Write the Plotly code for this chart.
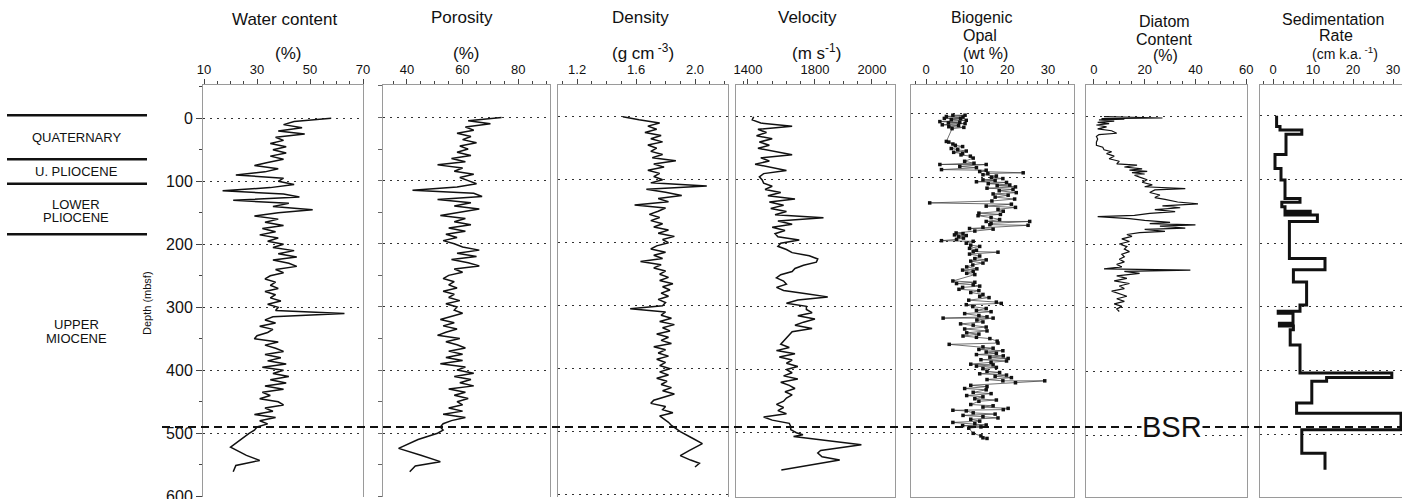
import plotly.graph_objects as go

# ---------------- data ----------------
core_depth = [0, 5, 10, 15, 20, 25, 30, 35, 40, 45, 50, 55, 60, 65, 70, 75, 80, 85, 90, 95,
              100, 105, 110, 115, 120, 125, 130, 135, 140, 145, 150, 155, 160, 165, 170, 175, 180, 185, 190, 195,
              200, 205, 210, 215, 220, 225, 230, 235, 240, 245, 250, 255, 260, 265, 270, 275, 280, 285, 290, 295,
              300, 305, 310, 315, 320, 325, 330, 335, 340, 345, 350, 355, 360, 365, 370, 375, 380, 385, 390, 395,
              400, 405, 410, 415, 420, 425, 430, 435, 440, 445, 450, 455, 460, 465, 470, 475, 480, 485, 490]

water_pct_core = [58, 44, 40, 47, 38, 48, 37, 40, 35, 41, 36, 41, 35, 40, 34, 29, 38, 33, 22, 40,
                  38, 44, 35, 17, 40, 46, 21, 42, 36, 51, 38, 29, 38, 33, 40, 32, 37, 31, 38, 34,
                  40, 36, 44, 38, 45, 36, 42, 45, 37, 40, 35, 33, 37, 35, 38, 33, 37, 35, 39, 34,
                  38, 37, 63, 36, 33, 37, 31, 36, 34, 30, 29, 38, 33, 37, 40, 33, 39, 34, 41, 32,
                  40, 36, 42, 35, 41, 33, 40, 32, 35, 31, 38, 40, 33, 36, 29, 37, 31, 34, 30]
water_depth = core_depth + [495, 500, 510, 522, 535, 543, 551, 561]
water_pct = water_pct_core + [29, 27, 24, 20, 26, 31, 22, 21]

poro_pct_core = [74, 62, 70, 61, 64, 58, 63, 60, 65, 59, 62, 58, 63, 56, 61, 51, 60, 57, 64, 59,
                 62, 65, 58, 42, 64, 67, 51, 63, 57, 66, 59, 52, 61, 57, 63, 55, 61, 54, 58, 53,
                 57, 60, 66, 58, 65, 56, 62, 66, 57, 60, 55, 53, 57, 55, 58, 53, 57, 55, 59, 54,
                 58, 57, 60, 56, 52, 57, 53, 58, 54, 51, 59, 54, 58, 61, 55, 60, 54, 60, 52, 61,
                 58, 64, 57, 63, 59, 64, 55, 61, 57, 62, 58, 60, 55, 60, 53, 61, 56, 53, 52]
poro_depth = core_depth + [495, 500, 510, 524, 535, 545, 552, 561]
poro_pct = poro_pct_core + [53, 51, 44, 37, 45, 52, 43, 41]

dens_core = [1.51, 1.62, 1.76, 1.68, 1.74, 1.66, 1.77, 1.70, 1.78, 1.68, 1.74, 1.70, 1.78, 1.71, 1.87, 1.72, 1.79, 1.68, 1.76, 1.72,
             1.78, 1.70, 2.08, 1.67, 1.80, 1.91, 1.75, 1.82, 1.59, 1.80, 1.75, 1.69, 1.76, 1.70, 1.78, 1.72, 1.82, 1.75, 1.86, 1.78,
             1.82, 1.74, 1.70, 1.80, 1.72, 1.78, 1.63, 1.77, 1.72, 1.80, 1.76, 1.82, 1.76, 1.85, 1.78, 1.83, 1.77, 1.82, 1.75, 1.80,
             1.78, 1.56, 1.80, 1.77, 1.84, 1.76, 1.86, 1.78, 1.83, 1.74, 1.82, 1.77, 1.84, 1.72, 1.80, 1.75, 1.82, 1.74, 1.80, 1.76,
             1.83, 1.76, 1.82, 1.74, 1.81, 1.77, 1.84, 1.78, 1.86, 1.79, 1.72, 1.70, 1.80, 1.78, 1.85, 1.76, 1.79, 1.82, 1.84]
dens_depth = core_depth + [495, 500, 510, 519, 530, 538, 545, 550, 556]
dens_gcc = dens_core + [1.87, 1.90, 1.98, 2.05, 1.96, 1.90, 1.97, 2.03, 2.00]

vel_core = [1585, 1580, 1610, 1720, 1600, 1630, 1595, 1650, 1605, 1640, 1600, 1660, 1720, 1610, 1640, 1590, 1650, 1700, 1620, 1605,
            1615, 1620, 1650, 1625, 1680, 1635, 1730, 1640, 1690, 1645, 1700, 1660, 1830, 1670, 1720, 1650, 1695, 1660, 1670, 1745,
            1680, 1670, 1700, 1720, 1780, 1810, 1805, 1760, 1730, 1720, 1680, 1665, 1690, 1700, 1665, 1690, 1770, 1845, 1740, 1700,
            1770, 1770, 1790, 1740, 1800, 1760, 1730, 1790, 1720, 1710, 1700, 1690, 1680, 1710, 1665, 1730, 1675, 1720, 1700, 1740,
            1700, 1720, 1690, 1740, 1680, 1710, 1730, 1695, 1720, 1700, 1690, 1665, 1690, 1670, 1700, 1620, 1650, 1710, 1715]
vel_depth = core_depth + [495, 500, 503, 506, 519, 528, 532, 538, 543, 559]
vel_ms = vel_core + [1715, 1735, 1758, 1725, 1963, 1820, 1810, 1825, 1887, 1682]

opal_depth = [3, 3, 5, 6, 8, 8, 10, 11, 13, 14, 15, 16, 18, 19, 21, 22, 24,
              44, 45, 48, 50, 52, 55, 57, 59, 61, 63, 65, 67, 70,
              75, 78, 80, 80, 83, 85, 88, 89, 91, 93, 94, 96, 98, 100, 102, 104, 105, 107, 108, 110,
              112, 113, 115, 117, 119, 121, 124, 126, 128, 131, 134, 137, 140, 142, 145, 147, 150, 153, 156, 158,
              160, 163, 166, 169, 169, 172, 174, 175, 178, 180, 181, 184,
              187, 188, 190, 191, 193, 195, 197, 199, 200, 203, 206, 208, 211, 214, 216, 217, 220, 223,
              227, 229, 231, 234, 237, 240, 243, 245, 247, 250, 252,
              262, 264, 266, 268, 270, 272, 275, 277, 280, 283, 286, 288, 292, 295, 297, 299, 302, 305, 308, 310,
              313, 316, 318, 320, 320, 323, 326, 329, 331, 334, 337, 340, 343, 345, 348, 350, 352, 356, 359, 361,
              365, 367, 369, 371, 373, 375, 377, 379, 381, 383, 385, 387, 389, 392, 393, 395, 397, 399,
              403, 405, 407, 409, 411, 413, 416, 418, 418, 421, 425, 427, 430, 432, 436, 438, 441, 443, 446, 448, 450,
              455, 457, 459, 461, 463, 464, 465, 468, 470, 472, 474, 476, 478, 481, 483, 485, 487, 488, 490, 492,
              500, 504, 507, 508]
opal_wt = [6.6, 9.6, 5.0, 9.1, 4.5, 8.5, 6.2, 9.9, 3.4, 8.3, 5.5, 9.6, 4.0, 8.0, 5.6, 9.3, 6.4,
           5.0, 5.6, 6.6, 7.2, 9.0, 6.2, 7.8, 9.9, 6.8, 9.0, 8.6, 10.9, 11.6,
           9.5, 11.8, 3.4, 14.8, 8.3, 12.4, 3.8, 14.8, 13.2, 23.9, 15.2, 14.0, 17.3, 16.1, 18.9, 14.0, 17.0, 12.4, 19.8, 15.3,
           20.6, 17.5, 22.0, 15.0, 21.4, 18.0, 22.2, 16.5, 20.2, 17.0, 21.8, 16.2, 0.9, 21.0, 14.8, 22.0, 17.7, 19.0, 13.0, 18.3,
           12.8, 16.0, 18.1, 14.8, 25.5, 16.0, 15.7, 25.1, 14.0, 10.7, 16.5, 12.0,
           7.4, 9.1, 7.0, 9.9, 8.0, 9.2, 7.5, 3.8, 11.6, 9.9, 11.0, 13.2, 10.7, 12.4, 11.6, 17.7, 10.7, 13.2,
           12.0, 14.8, 11.0, 14.0, 11.5, 10.0, 12.5, 9.0, 11.6, 10.0, 12.0,
           6.6, 12.0, 7.5, 11.6, 13.2, 9.0, 8.1, 13.0, 11.0, 14.0, 13.2, 15.5, 10.5, 17.3, 18.5, 9.9, 11.5, 14.8, 12.4, 16.0,
           9.5, 13.0, 15.0, 4.2, 16.5, 12.5, 14.0, 8.5, 11.6, 14.8, 9.5, 15.0, 10.0, 13.0, 9.1, 12.4, 15.7, 17.5, 17.7, 5.7,
           14.0, 16.5, 13.0, 18.9, 14.8, 17.3, 12.4, 19.0, 15.7, 20.2, 13.5, 19.8, 16.0, 11.0, 16.5, 12.4, 17.3, 14.0,
           15.0, 18.1, 13.2, 19.8, 17.0, 21.0, 15.0, 18.9, 29.2, 22.0, 11.0, 15.0, 9.5, 14.8, 11.6, 16.0, 10.0, 14.0, 12.0, 17.3, 13.0,
           11.0, 16.5, 14.0, 20.2, 19.0, 6.6, 9.9, 11.6, 17.0, 9.1, 14.0, 17.7, 11.0, 13.2, 6.6, 12.0, 14.8, 9.0, 13.5, 10.5,
           11.6, 13.5, 14.0, 15.0]

diatom_depth = [0, 1, 2, 3, 4, 5, 7, 9, 11, 13, 16, 19, 22, 26, 28, 31, 35, 40, 45, 48,
                52, 55, 58, 62, 66, 70, 74, 76, 79, 82, 84, 86, 88, 90, 92, 95, 99, 103, 107, 110,
                113, 115, 119, 123, 127, 130, 134, 137, 140, 143, 146, 149, 152, 155, 157, 160, 163, 166, 168, 170,
                172, 175, 177, 180, 182, 185, 188, 192, 196, 200, 204, 208, 212, 216, 220, 224, 228, 232, 236, 239,
                241, 243, 246, 250, 254, 258, 262, 266, 270, 274, 278, 282, 286, 290, 294, 298, 302, 306]
diatom_pct = [4, 18, 27, 3, 12, 2, 8, 1.5, 6, 1, 5, 1.5, 7, 9, 2, 1, 1.5, 1, 1, 3.5,
              4, 7, 5, 8, 6, 10, 9, 17, 12, 19, 14, 21, 15, 20, 16, 18, 21, 19, 23, 20,
              36, 24, 22, 26, 24, 28, 33, 41, 27, 34, 24, 32, 22, 16, 1.5, 14, 20, 30, 22, 40,
              26, 36, 20, 28, 18, 13, 15, 11, 14, 10, 13, 12, 14, 11, 12, 10, 12, 9, 11, 4,
              38, 12, 18, 9, 13, 8, 14, 10, 12, 7, 10, 13, 9, 12, 8, 11, 9, 10]

sed_top = [0, 17, 22.5, 29, 61, 83, 101, 130, 136, 143, 150, 154, 156, 166, 224, 242, 261, 297, 307, 310,
           326, 330, 336, 360, 404, 411, 417, 451, 467, 493, 530]
sed_rate = [0.9, 1.75, 7.2, 3.25, 0.5, 2.0, 3.0, 6.75, 2.2, 3.0, 9.3, 3.0, 11.1, 4.1, 13.0, 5.1, 8.4, 6.75, 1.3, 5.0,
            1.6, 5.1, 4.3, 6.75, 29.7, 13.4, 9.7, 5.9, 32.0, 7.2, 13.0]
sed_bottom = 556

bsr_depth = 490
strat_bounds = [-5, 65, 104, 184]
strat_text = ["QUATERNARY", "U. PLIOCENE", "LOWER", "PLIOCENE", "UPPER", "MIOCENE"]
strat_text_depth = [31, 84, 136, 157, 328, 350]

depth_ticks = [0, 100, 200, 300, 400, 500, 600]
vel_tickvals = [1565, 1800, 2000]
vel_ticktext = ["1400", "1800", "2000"]

# ---------------- layout helpers ----------------
W, H = 1402, 499
T, B = 85, 2
PH = H - T - B
FONT = "Liberation Sans, Arial, sans-serif"
INK = "#111111"


def xp(px):
    return px / W


def yp(py):
    return 1 - (py - T) / PH


# panel: (left px, right px, x range, major tickvals, ticktext, minor dtick, minor tick0, y range, bottom-mirror)
panels = [
    (203, 363, [9.6, 70], [10, 30, 50, 70], None, 5, 10, [601.1, -52.9], False),
    (383, 550, [31.4, 91.4], [40, 60, 80], None, 5, 40, [601.0, -51.5], False),
    (558, 728, [1.07, 2.224], [1.2, 1.6, 2.0], ["1.2", "1.6", "2.0"], 0.1, 1.2, [603.6, -50.3], False),
    (736, 895, [1523, 2081], vel_tickvals, vel_ticktext, 50, 1800, [601.6, -50.2], True),
    (911, 1074, [-3.7, 36.4], [0, 10, 20, 30], None, 2.5, 0, [599.5, -44.2], True),
    (1086, 1247, [-3.1, 60.3], [0, 20, 40, 60], None, 5, 0, [597.4, -49.8], True),
    (1260, 1402, [-3.25, 32.25], [0, 10, 20, 30], None, 2.5, 0, [598.6, -48.2], True),
]

fig = go.Figure()

line_style = dict(color=INK, width=1.5)
fig.add_trace(go.Scatter(x=water_pct, y=water_depth, mode="lines", line=line_style, xaxis="x", yaxis="y"))
fig.add_trace(go.Scatter(x=poro_pct, y=poro_depth, mode="lines", line=line_style, xaxis="x2", yaxis="y2"))
fig.add_trace(go.Scatter(x=dens_gcc, y=dens_depth, mode="lines", line=line_style, xaxis="x3", yaxis="y3"))
fig.add_trace(go.Scatter(x=vel_ms, y=vel_depth, mode="lines", line=line_style, xaxis="x4", yaxis="y4"))
fig.add_trace(go.Scatter(x=opal_wt, y=opal_depth, mode="lines+markers",
                         line=dict(color="#333333", width=0.7),
                         marker=dict(symbol="square", size=3.5, color=INK),
                         xaxis="x5", yaxis="y5"))
fig.add_trace(go.Scatter(x=diatom_pct, y=diatom_depth, mode="lines", line=dict(color=INK, width=1.2),
                         xaxis="x6", yaxis="y6"))
fig.add_trace(go.Scatter(x=sed_rate + [sed_rate[-1]], y=sed_top + [sed_bottom], mode="lines",
                         line=dict(color=INK, width=3, shape="vh"), xaxis="x7", yaxis="y7"))

layout = dict(
    width=W, height=H,
    margin=dict(l=0, r=0, t=T, b=B, pad=0, autoexpand=False),
    paper_bgcolor="white", plot_bgcolor="white",
    showlegend=False,
    font=dict(family=FONT, color=INK),
)

for i, (l, r, xr, tv, tt, mdt, m0, yr, mirror_bottom) in enumerate(panels, start=1):
    sx = "" if i == 1 else str(i)
    xa = dict(
        domain=[xp(l), xp(r)], range=xr, side="top", anchor="y" + sx,
        showline=True, linecolor="#9a9a9a", linewidth=1, mirror=mirror_bottom,
        ticks="outside", ticklen=5, tickwidth=1, tickcolor="#444444",
        tickmode="array", tickvals=tv,
        minor=dict(tickmode="linear", dtick=mdt, tick0=m0, ticklen=3, tickcolor="#444444", ticks="outside"),
        tickfont=dict(size=13, family=FONT, color=INK),
        ticklabeloverflow="allow", automargin=False,
        showgrid=False, zeroline=False, fixedrange=True,
    )
    if tt is not None:
        xa["ticktext"] = tt
    grid_vals = depth_ticks if i <= 3 else depth_ticks[:-1]
    ya = dict(
        domain=[0, 1], range=yr, anchor="x" + sx,
        showline=True, linecolor="#9a9a9a", linewidth=1, mirror=True,
        tickmode="array", tickvals=grid_vals,
        showgrid=True, gridcolor="#333333", gridwidth=1.2, griddash="2px,5px",
        zeroline=False, showticklabels=False, ticks="", fixedrange=True, automargin=False,
    )
    if i == 1:
        ya.update(showticklabels=True, ticks="outside", ticklen=6, tickcolor="#444444",
                  tickfont=dict(size=16, family=FONT, color=INK),
                  ticklabeloverflow="allow",
                  minor=dict(tickmode="linear", dtick=100, tick0=50, ticklen=3, ticks="outside",
                             tickcolor="#444444"))
    if i == 2:
        ya.update(ticks="outside", ticklen=4, tickcolor="#666666",
                  minor=dict(tickmode="linear", dtick=100, tick0=50, ticklen=4, ticks="outside",
                             tickcolor="#666666"))
    layout["xaxis" + sx] = xa
    layout["yaxis" + sx] = ya

fig.update_layout(**layout)

# column titles: (text, centre x px, centre y px, font size)
titles = [
    ("Water content", 284, 19, 17), ("(%)", 288, 53, 17),
    ("Porosity", 462, 18, 17), ("(%)", 466, 53, 17),
    ("Density", 640, 18, 17), ("(g cm<sup> -3</sup>)", 643, 52, 17),
    ("Velocity", 807, 18, 17), ("(m s<sup>-1</sup>)", 816, 52, 17),
    ("Biogenic", 981, 18, 16), ("Opal", 980, 35, 16), ("(wt %)", 985, 53, 16),
    ("Diatom", 1164, 22, 16), ("Content", 1164, 39, 16), ("(%)", 1165, 56, 16),
    ("Sedimentation", 1333, 19, 16), ("Rate", 1336, 36, 16), ("(cm k.a.<sup> -1</sup>)", 1345, 53, 14),
]
for txt, px, py, fs in titles:
    fig.add_annotation(text=txt, x=xp(px), y=yp(py), xref="paper", yref="paper",
                       showarrow=False, xanchor="center", yanchor="middle",
                       font=dict(size=fs, family=FONT, color=INK))

# depth axis title
fig.add_annotation(text="Depth (mbsf)", x=xp(147), y=yp(303), xref="paper", yref="paper",
                   showarrow=False, textangle=-90, xanchor="center", yanchor="middle",
                   font=dict(size=11, family=FONT, color=INK))

# stratigraphy column
for d in strat_bounds:
    fig.add_shape(type="line", xref="paper", yref="y", x0=xp(7), x1=xp(147), y0=d, y1=d,
                  line=dict(color=INK, width=2.5))
for txt, d in zip(strat_text, strat_text_depth):
    fig.add_annotation(text=txt, x=xp(76), y=d, xref="paper", yref="y", showarrow=False,
                       xanchor="center", yanchor="middle",
                       font=dict(size=13, family=FONT, color=INK))

# BSR line and label
fig.add_shape(type="line", xref="paper", yref="y", x0=xp(162), x1=1, y0=bsr_depth, y1=bsr_depth,
              line=dict(color=INK, width=2, dash="8px,5px"), layer="above")
fig.add_annotation(text="BSR", x=xp(1172), y=bsr_depth, xref="paper", yref="y", showarrow=False,
                   xanchor="center", yanchor="middle", bgcolor="white", borderpad=0,
                   font=dict(size=29, family=FONT, color=INK))

fig.write_html("out.html", config={"displayModeBar": False},
               post_script="document.body.style.margin='0';document.body.style.padding='0';")
